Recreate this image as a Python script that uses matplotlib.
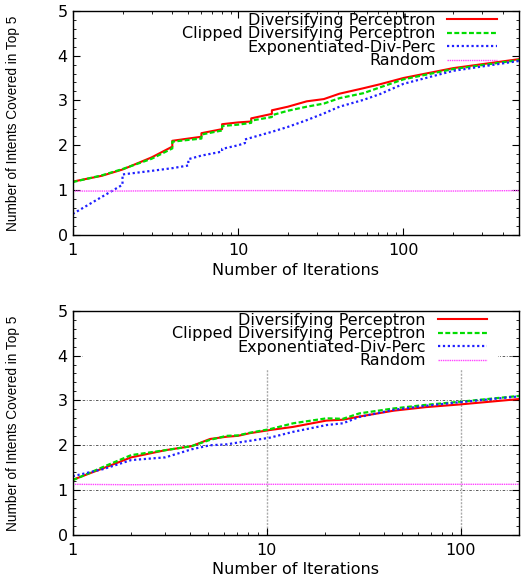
import matplotlib
matplotlib.use("Agg")
import matplotlib.pyplot as plt
from matplotlib.patches import Rectangle
from matplotlib.ticker import MultipleLocator, FixedLocator, FixedFormatter, LogLocator, NullFormatter

plt.rcParams['font.family'] = ['DejaVu Sans']

labels = ["Diversifying Perceptron", "Clipped Diversifying Perceptron",
          "Exponentiated-Div-Perc", "Random"]

# ---- top panel data ----
top_dp_x = [1, 1.5, 2, 3, 4, 4, 5, 6, 6, 8, 8, 10, 12, 12, 16, 16, 20, 26, 33, 41, 57, 72, 100, 200, 500]
top_dp_y = [1.19, 1.32, 1.46, 1.73, 1.97, 2.10, 2.15, 2.19, 2.27, 2.36, 2.47, 2.51, 2.53, 2.60, 2.70, 2.78,
            2.86, 2.98, 3.03, 3.15, 3.27, 3.36, 3.50, 3.72, 3.92]
top_cl_x = [1, 1.5, 2, 3, 4, 4, 5, 6, 6, 8, 8, 10, 12, 12, 16, 16, 20, 26, 33, 41, 57, 72, 100, 200, 500]
top_cl_y = [1.18, 1.33, 1.47, 1.70, 1.93, 2.08, 2.12, 2.15, 2.24, 2.33, 2.43, 2.46, 2.50, 2.55, 2.63, 2.67,
            2.77, 2.86, 2.93, 3.05, 3.16, 3.29, 3.47, 3.70, 3.90]
top_ex_x = [1, 2, 2, 3, 4, 5, 5, 6, 8, 8, 10, 11, 11, 16, 20, 26, 33, 41, 57, 72, 100, 200, 500]
top_ex_y = [0.47, 1.12, 1.35, 1.43, 1.49, 1.55, 1.69, 1.77, 1.86, 1.92, 2.00, 2.05, 2.13, 2.30, 2.41,
            2.56, 2.71, 2.86, 3.01, 3.14, 3.37, 3.66, 3.88]
top_rn_x = [1, 2, 5, 10, 20, 50, 100, 200, 500]
top_rn_y = [0.98, 0.98, 0.99, 0.99, 0.99, 0.98, 0.98, 0.98, 0.99]

# ---- bottom panel data ----
bot_x = [1, 1.44, 2, 3, 4.1, 5.1, 6.2, 7.1, 8.2, 10.4, 13.7, 20.3, 24.7, 30, 45, 66, 99, 200]
bot_dp_y = [1.23, 1.49, 1.73, 1.89, 1.98, 2.14, 2.19, 2.21, 2.27, 2.34, 2.41, 2.55, 2.57, 2.64, 2.77, 2.85, 2.91, 3.03]
bot_cl_y = [1.22, 1.52, 1.78, 1.89, 1.98, 2.12, 2.21, 2.22, 2.28, 2.36, 2.49, 2.60, 2.59, 2.71, 2.82, 2.90, 2.97, 3.10]
bot_ex_y = [1.31, 1.47, 1.67, 1.73, 1.91, 2.00, 2.02, 2.06, 2.10, 2.17, 2.30, 2.45, 2.49, 2.63, 2.79, 2.88, 2.96, 3.09]
bot_rn_x = [1, 2, 5, 10, 20, 50, 100, 200]
bot_rn_y = [1.13, 1.12, 1.13, 1.13, 1.13, 1.13, 1.13, 1.13]

x_ticks = [1, 10, 100]
y_ticks = [0, 1, 2, 3, 4, 5]

colors = ['#ff0000', '#00dd00', '#2020ff', '#ff44ff']
styles = [dict(ls='-', lw=1.5),
          dict(ls=(0, (2.2, 1.1)), lw=1.6),
          dict(ls=(0, (1, 1.2)), lw=1.6),
          dict(ls=(0, (1, 0.6)), lw=1.0)]

fig = plt.figure(figsize=(5.27, 5.78), dpi=100)
ax1 = fig.add_axes([0.138, 0.5934, 0.847, 0.3881])
ax2 = fig.add_axes([0.138, 0.0744, 0.847, 0.3881])


def style_axes(ax, xmax, grid):
    ax.set_xscale('log')
    ax.set_xlim(1, xmax)
    ax.set_ylim(0, 5)
    ax.set_axisbelow(True)
    ax.xaxis.set_major_locator(FixedLocator(x_ticks))
    ax.xaxis.set_major_formatter(FixedFormatter([str(t) for t in x_ticks]))
    ax.xaxis.set_minor_locator(LogLocator(base=10, subs=range(2, 10)))
    ax.xaxis.set_minor_formatter(NullFormatter())
    ax.yaxis.set_major_locator(FixedLocator(y_ticks))
    ax.yaxis.set_minor_locator(MultipleLocator(0.2))
    ax.tick_params(which='both', direction='in', top=True, right=True, labelsize=11.5)
    ax.tick_params(which='major', length=5, width=0.8)
    ax.tick_params(which='minor', length=2.5, width=0.6)
    ax.tick_params(axis='x', pad=6)
    for s in ax.spines.values():
        s.set_linewidth(1.0)
    ax.set_xlabel('Number of Iterations', fontsize=11.5, labelpad=3)
    ax.set_ylabel('Number of Intents Covered in Top 5', fontsize=9.8, family=['Liberation Sans'])
    ax.yaxis.set_label_coords(-0.119, 0.5)
    if grid:
        ax.grid(True, axis='y', which='major', color='#444444', ls=(0, (1, 2, 3, 2)), lw=0.6)
        ax.grid(True, axis='x', which='major', color='#aaaaaa', ls=(0, (1.5, 1)), lw=1.0)
        # opaque key area (hides the grid behind the legend)
        ax.add_patch(Rectangle((0.023, 0.74), 0.929, 0.26, transform=ax.transAxes,
                               facecolor='white', edgecolor='none', zorder=1))


style_axes(ax1, 500, False)
style_axes(ax2, 200, True)

top_series = [(top_dp_x, top_dp_y), (top_cl_x, top_cl_y), (top_ex_x, top_ex_y), (top_rn_x, top_rn_y)]
bot_series = [(bot_x, bot_dp_y), (bot_x, bot_cl_y), (bot_x, bot_ex_y), (bot_rn_x, bot_rn_y)]

for ax, series, anchor_x in [(ax1, top_series, 0.961), (ax2, bot_series, 0.939)]:
    for (xs, ys), lab, c, st in zip(series, labels, colors, styles):
        ax.plot(xs, ys, color=c, label=lab, zorder=2, **st)
    leg = ax.legend(loc='upper right', bbox_to_anchor=(anchor_x, 1.011), markerfirst=False, frameon=False,
                    fontsize=11.5, handlelength=3.1, handletextpad=0.75, labelspacing=-0.1,
                    borderpad=0.3, borderaxespad=0.0)
    leg.set_zorder(1.5)
    for t in leg.get_texts():
        t.set_ha('right')

fig.savefig('out.png', dpi=100)
